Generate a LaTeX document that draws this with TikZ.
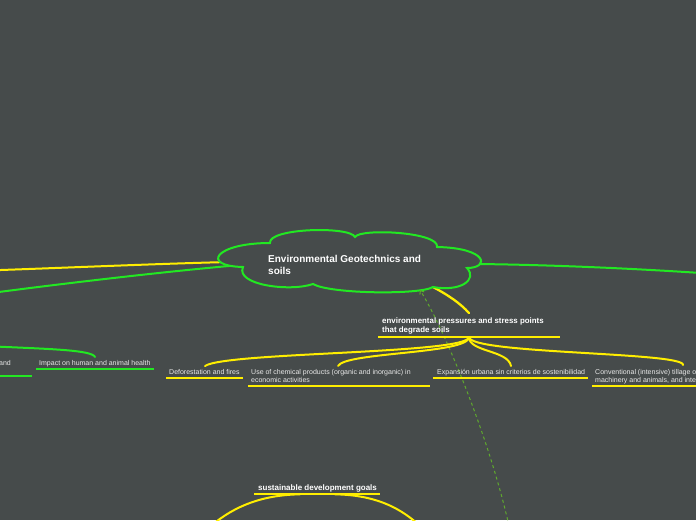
\documentclass[tikz,border=0pt]{standalone}
\usepackage{fontspec}
\setmainfont{Liberation Sans}
\usetikzlibrary{arrows.meta}
\definecolor{bg}{RGB}{70,75,75}
\definecolor{gr}{RGB}{34,232,34}
\definecolor{yl}{RGB}{255,238,0}
\definecolor{txt}{RGB}{232,232,232}
\definecolor{dashc}{RGB}{95,170,45}
\begin{document}
\begin{tikzpicture}[x=1pt,y=-1pt,
  lbl/.style={anchor=north west,inner sep=0pt,text=txt,font=\fontsize{7}{8}\selectfont,align=left},
  ttl/.style={anchor=north west,inner sep=0pt,text=white,font=\fontsize{7.9}{9}\selectfont\bfseries,align=left},
  roottxt/.style={anchor=north west,inner sep=0pt,text=white,font=\fontsize{10}{12.5}\selectfont\bfseries,align=left},
  uline/.style={line width=2pt},
  conn/.style={line width=2pt,line cap=round},
  dconn/.style={line width=1pt,dashc,dash pattern=on 3pt off 3pt},
]
\fill[bg] (0,0) rectangle (696,520);
\useasboundingbox (0,0) rectangle (696,520);
\clip (0,0) rectangle (696,520);

% attach coordinates
\coordinate (cL1) at (228,262);
\coordinate (eL1) at (-5,270.2);
\coordinate (cL2) at (240,265);
\coordinate (eL2) at (-5,292.5);
\coordinate (cR) at (478,264);
\coordinate (eR) at (701,273);
\coordinate (cB) at (433,287);
\coordinate (pTop) at (469,313);
\coordinate (cArr) at (420,290);
\coordinate (eArr) at (509,526);

% connectors from root
\draw[conn,yl] (cL1) .. controls (150,264) and (60,268) .. (eL1);
\draw[conn,gr] (cL2) .. controls (160,272) and (60,284) .. (eL2);
\draw[conn,gr] (cR) .. controls (560,265) and (640,269) .. (eR);
\draw[conn,yl,line width=2.3pt] (cB) .. controls (448,295) and (460,303) .. (pTop);

% cloud
\draw[gr, line width=2pt, fill=bg] (243,267) .. controls (200,266) and (215,243) .. (270,243)
 .. controls (268,228) and (350,226) .. (355,237)
 .. controls (360,228) and (440,232) .. (437,247)
 .. controls (488,248) and (490,268) .. (467,268)
 .. controls (478,280) and (460,292) .. (433,287)
 .. controls (420,295) and (330,294) .. (313,284)
 .. controls (290,292) and (235,285) .. (243,267) -- cycle;
\node[roottxt] (root) at (268,254.6) {Environmental Geotechnics and\\soils};

% dashed arrow
\draw[dconn,-{Straight Barb[length=3pt,width=5pt]}] (eArr) .. controls (490,440) and (445,330) .. (cArr);

% pressures node
\node[ttl] (press) at (382,317.2) {environmental pressures and stress points\\that degrade soils};
\coordinate (pL) at (378,337);
\coordinate (pR) at (560,337);
\coordinate (pS) at (469,337);
\draw[yl,line width=2.5pt] (pL) -- (pR);

% children of pressures
\node[lbl] (defo) at (169,369) {Deforestation and fires};
\node[lbl] (chem) at (251,369) {Use of chemical products (organic and inorganic) in\\economic activities};
\node[lbl] (expa) at (437,369) {Expansión urbana sin criterios de sostenibilidad};
\node[lbl] (conv) at (595,369) {Conventional (intensive) tillage o\\machinery and animals, and inte};

\coordinate (defoT) at (205,366);
\coordinate (chemT) at (338,366);
\coordinate (expaT) at (511,366);
\coordinate (convT) at (683,365);
\draw[conn,yl] (pS) .. controls (469,354) and (225,352) .. (defoT);
\draw[conn,yl] (pS) .. controls (469,354) and (345,352) .. (chemT);
\draw[conn,yl] (pS) .. controls (469,352) and (508,350) .. (expaT);
\draw[conn,yl] (pS) .. controls (469,354) and (685,352) .. (convT);

\coordinate (defoL) at (166,378); \coordinate (defoR) at (243,378);
\coordinate (chemL) at (248,386); \coordinate (chemR) at (430,386);
\coordinate (expaL) at (433,378); \coordinate (expaR) at (588,378);
\coordinate (convL) at (592,386); \coordinate (convR) at (700,386);
\draw[yl,uline] (defoL) -- (defoR);
\draw[yl,uline] (chemL) -- (chemR);
\draw[yl,uline] (expaL) -- (expaR);
\draw[yl,uline] (convL) -- (convR);

% left green branch
\node[lbl,anchor=north east] (andn) at (11,360) {and};
\coordinate (andL) at (-5,376); \coordinate (andR) at (32,376);
\draw[gr,uline] (andL) -- (andR);
\node[lbl] (impact) at (39,360) {Impact on human and animal health};
\coordinate (impL) at (36,369); \coordinate (impR) at (154,369);
\draw[gr,uline] (impL) -- (impR);
\coordinate (impT) at (95,357);
\coordinate (impP) at (-5,346.5);
\draw[conn,gr] (impP) .. controls (50,349) and (92,350) .. (impT);

% sustainable development goals
\node[ttl,font=\fontsize{8}{9}\selectfont\bfseries] (sdg) at (258,484.2) {sustainable development goals};
\coordinate (sdgL) at (254,494.3); \coordinate (sdgR) at (380,494.3);
\draw[yl,uline] (sdgL) -- (sdgR);
\coordinate (sdgC1) at (300,494.3);
\coordinate (sdgC2) at (335,494.3);
\coordinate (sdgE1) at (212,525);
\coordinate (sdgE2) at (419,525);
\draw[conn,yl] (sdgC1) .. controls (262,495) and (235,506) .. (sdgE1);
\draw[conn,yl] (sdgC2) .. controls (373,495) and (398,506) .. (sdgE2);
\end{tikzpicture}
\end{document}
